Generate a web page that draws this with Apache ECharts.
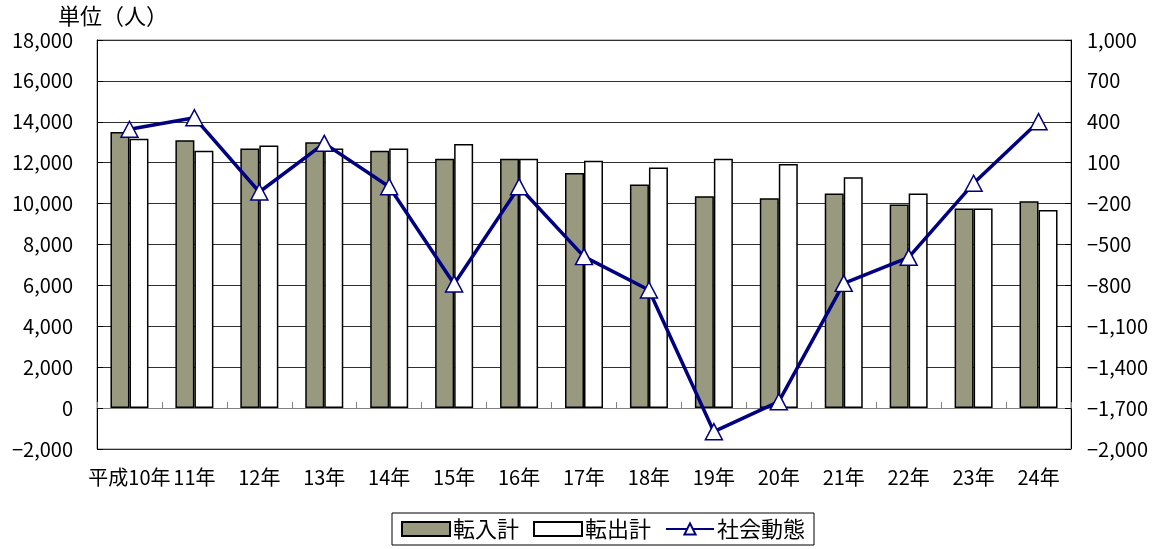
<!DOCTYPE html>
<html>
<head>
<meta charset="utf-8">
<script src="https://cdn.jsdelivr.net/npm/echarts@6/dist/echarts.min.js"></script>
<style>
html,body{margin:0;padding:0;background:#fff;}
#chart{width:1157px;height:549px;}
</style>
</head>
<body>
<div id="chart"></div>
<script>
const categories = ['平成10年','11年','12年','13年','14年','15年','16年','17年','18年','19年','20年','21年','22年','23年','24年'];
const tennyu = [13500,13100,12690,13000,12590,12190,12190,11500,10930,10360,10260,10500,9950,9760,10110];
const tenshutsu = [13170,12590,12840,12690,12690,12920,12190,12100,11770,12190,11940,11290,10500,9760,9690];
const shakai = [345,430,-115,242,-76,-790,-76,-589,-834,-1873,-1653,-785,-594,-51,401];
const leftTicks = {min:-2000, max:18000, interval:2000};
const rightTicks = {min:-2000, max:1000, interval:300};

const FONT = '"Noto Sans CJK JP", "Noto Sans", sans-serif';
const chart = echarts.init(document.getElementById('chart'), null, {renderer:'canvas'});
const fmt = v => v.toLocaleString('en-US').replace('-', '−');
chart.setOption({
  animation:false,
  backgroundColor:'#fff',
  textStyle:{fontFamily:FONT},
  title:{text:'単位（人）', left:58, top:5, padding:0, textStyle:{fontFamily:FONT, fontSize:22, fontWeight:'normal', color:'#000'}},
  grid:{left:97, right:86, top:40, bottom:100, show:true, borderColor:'#808080', borderWidth:1},
  legend:{
    top:513, left:392,
    itemGap:14, itemWidth:48, itemHeight:14,
    padding:[5,9,5,9],
    borderColor:'#000', borderWidth:1,
    textStyle:{fontFamily:FONT, fontSize:22, color:'#000', padding:[0,0,0,-2]},
    data:[
      {name:'転入計', icon:'rect'},
      {name:'転出計', icon:'rect'},
      {name:'社会動態'}
    ]
  },
  xAxis:[{
    type:'category', data:categories,
    axisLine:{onZero:true, lineStyle:{color:'#808080', width:1}},
    axisTick:{show:true, inside:true, length:6, lineStyle:{color:'#808080'}},
    axisLabel:{fontFamily:FONT, fontSize:20, color:'#000', margin:18, interval:0}
  }],
  yAxis:[{
    type:'value', position:'left', min:leftTicks.min, max:leftTicks.max, interval:leftTicks.interval,
    axisLine:{show:true, lineStyle:{color:'#000'}},
    axisTick:{show:true, inside:true, length:6, lineStyle:{color:'#000'}},
    splitLine:{show:true, lineStyle:{color:'#303030', width:1}},
    axisLabel:{fontFamily:FONT, fontSize:20, color:'#000', margin:24, formatter:fmt}
  },{
    type:'value', position:'right', min:rightTicks.min, max:rightTicks.max, interval:rightTicks.interval,
    axisLine:{show:true, lineStyle:{color:'#000'}},
    axisTick:{show:true, inside:true, length:6, lineStyle:{color:'#000'}},
    splitLine:{show:false},
    axisLabel:{fontFamily:FONT, fontSize:20, color:'#000', margin:16, formatter:fmt}
  }],
  series:[
    {name:'転入計', type:'bar', data:tennyu, barWidth:19, barGap:'0%',
      itemStyle:{color:'#999980', borderColor:'#000', borderWidth:1.5}},
    {name:'転出計', type:'bar', data:tenshutsu, barWidth:19,
      itemStyle:{color:'#fff', borderColor:'#000', borderWidth:1.5}},
    {name:'社会動態', type:'line', yAxisIndex:1, data:shakai,
      symbol:'triangle', symbolSize:[17,16], showAllSymbol:true,
      lineStyle:{color:'#000080', width:3.5},
      itemStyle:{color:'#fff', borderColor:'#000080', borderWidth:1.5}, z:5}
  ]
});
</script>
</body>
</html>
